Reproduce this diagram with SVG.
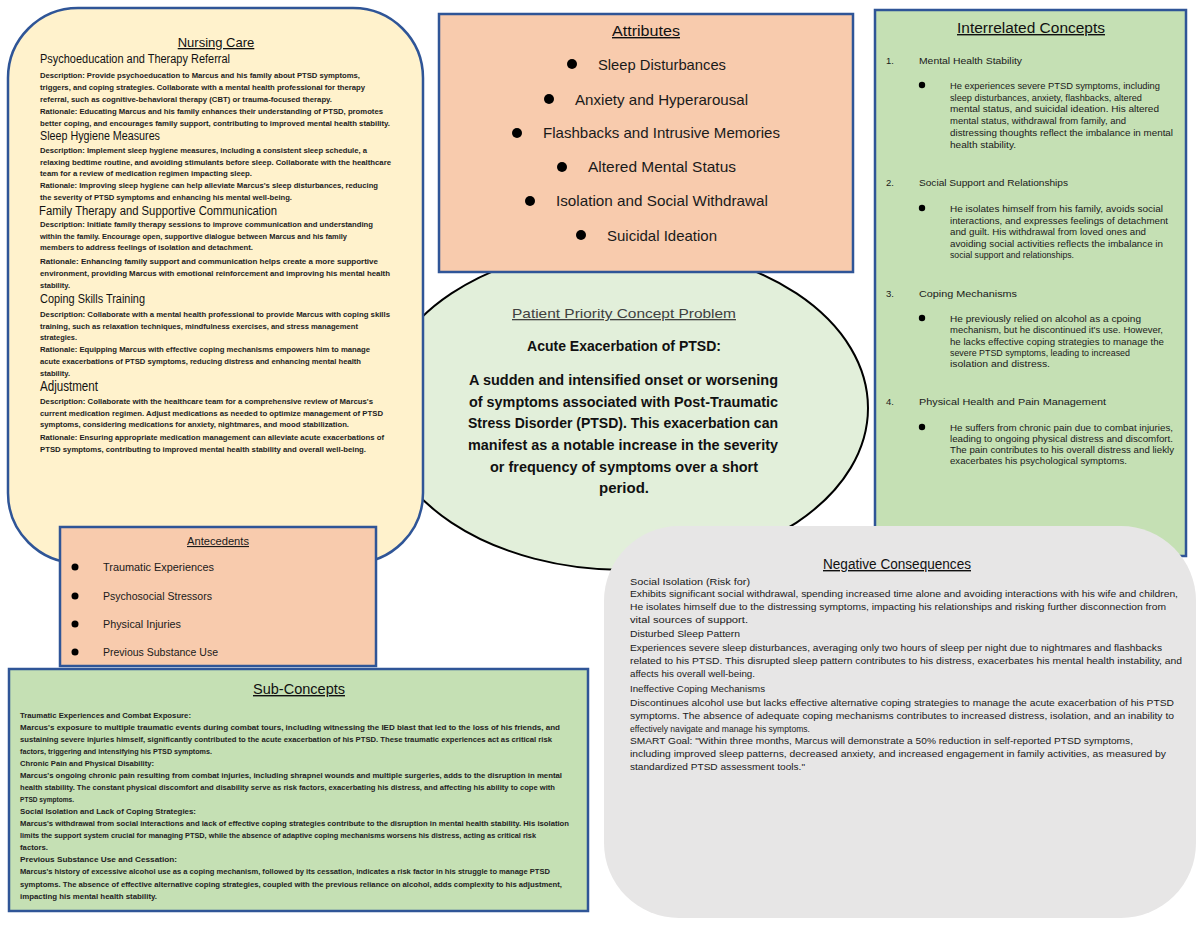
<svg xmlns="http://www.w3.org/2000/svg" width="1200" height="927" viewBox="0 0 1200 927">
<style>
text{font-family:"Liberation Sans",Arial,sans-serif;fill:#111}
.box{stroke:#2F5597;stroke-width:2.5}
.yel{fill:#FFF2CC}
.org{fill:#F8CBAD}
.grn{fill:#C5E0B4}
.ttl{font-size:13px;text-decoration:underline}
.h{font-size:12.5px}
.s{font-size:8px;font-weight:bold;fill:#222}
.m{font-size:9.5px;fill:#1a1a1a}
.n{font-size:9.5px;fill:#1a1a1a}
.a{font-size:15px;fill:#1a1a1a}
.an{font-size:11px;fill:#1a1a1a}
.pb{font-size:15px;font-weight:bold}
</style>
<rect width="1200" height="927" fill="#ffffff"/>

<g id="problem">
<ellipse cx="624" cy="408" rx="244" ry="162" fill="#E2EFDA" stroke="#000" stroke-width="2"/>
<text x="624" y="318" text-anchor="middle" font-size="13" style="fill:#404040;text-decoration:underline" textLength="224" lengthAdjust="spacingAndGlyphs">Patient Priority Concept Problem</text>
<text x="624" y="351" text-anchor="middle" class="pb" textLength="194" lengthAdjust="spacingAndGlyphs">Acute Exacerbation of PTSD:</text>
<text x="469" y="385" class="pb" textLength="309" lengthAdjust="spacingAndGlyphs">A sudden and intensified onset or worsening</text>
<text x="469" y="407" class="pb" textLength="309" lengthAdjust="spacingAndGlyphs">of symptoms associated with Post-Traumatic</text>
<text x="468" y="428" class="pb" textLength="310" lengthAdjust="spacingAndGlyphs">Stress Disorder (PTSD). This exacerbation can</text>
<text x="468" y="450" class="pb" textLength="310" lengthAdjust="spacingAndGlyphs">manifest as a notable increase in the severity</text>
<text x="490" y="472" class="pb" textLength="268" lengthAdjust="spacingAndGlyphs">or frequency of symptoms over a short</text>
<text x="624" y="493" class="pb" text-anchor="middle" textLength="50" lengthAdjust="spacingAndGlyphs">period.</text>
</g>

<g id="nursing-care">
<rect x="8" y="8" width="415" height="555" rx="70" class="box yel"/>
<text x="216" y="47" text-anchor="middle" class="ttl">Nursing Care</text>
<text x="40" y="63" class="h" textLength="190" lengthAdjust="spacingAndGlyphs">Psychoeducation and Therapy Referral</text>
<text x="40" y="78" class="s" textLength="320" lengthAdjust="spacingAndGlyphs">Description:  Provide psychoeducation to Marcus and his family about PTSD symptoms,</text>
<text x="40" y="90" class="s" textLength="325" lengthAdjust="spacingAndGlyphs">triggers, and coping strategies. Collaborate with a mental health professional for therapy</text>
<text x="40" y="102" class="s" textLength="292" lengthAdjust="spacingAndGlyphs">referral, such as cognitive-behavioral therapy (CBT) or trauma-focused therapy.</text>
<text x="40" y="114" class="s" textLength="343" lengthAdjust="spacingAndGlyphs">Rationale:  Educating Marcus and his family enhances their understanding of PTSD, promotes</text>
<text x="40" y="126" class="s" textLength="350" lengthAdjust="spacingAndGlyphs">better coping, and encourages family support, contributing to improved mental health stability.</text>
<text x="40" y="140" class="h" textLength="120" lengthAdjust="spacingAndGlyphs">Sleep Hygiene Measures</text>
<text x="40" y="153" class="s" textLength="327" lengthAdjust="spacingAndGlyphs">Description:  Implement sleep hygiene measures, including a consistent sleep schedule, a</text>
<text x="40" y="165" class="s" textLength="351" lengthAdjust="spacingAndGlyphs">relaxing bedtime routine, and avoiding stimulants before sleep. Collaborate with the healthcare</text>
<text x="40" y="176" class="s" textLength="212" lengthAdjust="spacingAndGlyphs">team for a review of medication regimen impacting sleep.</text>
<text x="40" y="188" class="s" textLength="338" lengthAdjust="spacingAndGlyphs">Rationale:  Improving sleep hygiene can help alleviate Marcus's sleep disturbances, reducing</text>
<text x="40" y="200" class="s" textLength="252" lengthAdjust="spacingAndGlyphs">the severity of PTSD symptoms and enhancing his mental well-being.</text>
<text x="39" y="215" class="h" textLength="238" lengthAdjust="spacingAndGlyphs">Family Therapy and Supportive Communication</text>
<text x="40" y="227" class="s" textLength="333" lengthAdjust="spacingAndGlyphs">Description: Initiate family therapy sessions to improve communication and understanding</text>
<text x="40" y="239" class="s" textLength="307" lengthAdjust="spacingAndGlyphs">within the family. Encourage open, supportive dialogue between Marcus and his family</text>
<text x="40" y="250" class="s" textLength="213" lengthAdjust="spacingAndGlyphs">members to address feelings of isolation and detachment.</text>
<text x="40" y="264" class="s" textLength="338" lengthAdjust="spacingAndGlyphs">Rationale:  Enhancing family support and communication helps create a more supportive</text>
<text x="40" y="276" class="s" textLength="350" lengthAdjust="spacingAndGlyphs">environment, providing Marcus with emotional reinforcement and improving his mental health</text>
<text x="40" y="288" class="s" textLength="30" lengthAdjust="spacingAndGlyphs">stability.</text>
<text x="40" y="303" class="h" textLength="105" lengthAdjust="spacingAndGlyphs">Coping Skills Training</text>
<text x="40" y="317" class="s" textLength="350" lengthAdjust="spacingAndGlyphs">Description:  Collaborate with a mental health professional to provide Marcus with coping skills</text>
<text x="40" y="329" class="s" textLength="318" lengthAdjust="spacingAndGlyphs">training, such as relaxation techniques, mindfulness exercises, and stress management</text>
<text x="40" y="340" class="s" textLength="37" lengthAdjust="spacingAndGlyphs">strategies.</text>
<text x="40" y="352" class="s" textLength="330" lengthAdjust="spacingAndGlyphs">Rationale: Equipping Marcus with effective coping mechanisms empowers him to manage</text>
<text x="40" y="364" class="s" textLength="321" lengthAdjust="spacingAndGlyphs">acute exacerbations of PTSD symptoms, reducing distress and enhancing mental health</text>
<text x="40" y="376" class="s" textLength="30" lengthAdjust="spacingAndGlyphs">stability.</text>
<text x="40" y="391" class="h" style="font-size:14px" textLength="58" lengthAdjust="spacingAndGlyphs">Adjustment</text>
<text x="40" y="404" class="s" textLength="333" lengthAdjust="spacingAndGlyphs">Description: Collaborate with the healthcare team for a comprehensive review of Marcus's</text>
<text x="40" y="416" class="s" textLength="343" lengthAdjust="spacingAndGlyphs">current medication regimen. Adjust medications as needed to optimize management of PTSD</text>
<text x="40" y="427" class="s" textLength="309" lengthAdjust="spacingAndGlyphs">symptoms, considering medications for anxiety, nightmares, and mood stabilization.</text>
<text x="40" y="440" class="s" textLength="344" lengthAdjust="spacingAndGlyphs">Rationale: Ensuring appropriate medication management can alleviate acute exacerbations of</text>
<text x="40" y="452" class="s" textLength="326" lengthAdjust="spacingAndGlyphs">PTSD symptoms, contributing to improved mental health stability and overall well-being.</text>
</g>

<g id="attributes">
<rect x="439" y="14" width="414" height="258" class="box org"/>
<text x="646" y="36" text-anchor="middle" class="ttl" style="font-size:14px" textLength="68" lengthAdjust="spacingAndGlyphs">Attributes</text>
<circle cx="572" cy="64" r="5" fill="#000"/>
<text x="598" y="70" class="a" textLength="128" lengthAdjust="spacingAndGlyphs">Sleep Disturbances</text>
<circle cx="549" cy="99" r="5" fill="#000"/>
<text x="575" y="105" class="a" textLength="173" lengthAdjust="spacingAndGlyphs">Anxiety and Hyperarousal</text>
<circle cx="517" cy="133" r="5" fill="#000"/>
<text x="543" y="138" class="a" textLength="237" lengthAdjust="spacingAndGlyphs">Flashbacks and Intrusive Memories</text>
<circle cx="562" cy="167" r="5" fill="#000"/>
<text x="588" y="172" class="a" textLength="148" lengthAdjust="spacingAndGlyphs">Altered Mental Status</text>
<circle cx="530" cy="201" r="5" fill="#000"/>
<text x="556" y="206" class="a" textLength="212" lengthAdjust="spacingAndGlyphs">Isolation and Social Withdrawal</text>
<circle cx="581" cy="235" r="5" fill="#000"/>
<text x="607" y="241" class="a" textLength="110" lengthAdjust="spacingAndGlyphs">Suicidal Ideation</text>
</g>

<g id="interrelated-concepts">
<rect x="875" y="10" width="311" height="546" class="box grn"/>
<text x="1031" y="33" text-anchor="middle" class="ttl" style="font-size:14px" textLength="148" lengthAdjust="spacingAndGlyphs">Interrelated Concepts</text>
<text x="886" y="64" class="n">1.</text>
<text x="919" y="64" class="n" textLength="103" lengthAdjust="spacingAndGlyphs">Mental Health Stability</text>
<circle cx="922" cy="85" r="3.2" fill="#000"/>
<text x="950" y="89" class="m" textLength="210" lengthAdjust="spacingAndGlyphs">He experiences severe PTSD symptoms, including</text>
<text x="950" y="101" class="m" textLength="192" lengthAdjust="spacingAndGlyphs">sleep disturbances, anxiety, flashbacks, altered</text>
<text x="950" y="112" class="m" textLength="209" lengthAdjust="spacingAndGlyphs">mental status, and suicidal ideation. His altered</text>
<text x="950" y="124" class="m" textLength="176" lengthAdjust="spacingAndGlyphs">mental status, withdrawal from family, and</text>
<text x="950" y="136" class="m" textLength="223" lengthAdjust="spacingAndGlyphs">distressing thoughts reflect the imbalance in mental</text>
<text x="950" y="148" class="m" textLength="66" lengthAdjust="spacingAndGlyphs">health stability.</text>
<text x="886" y="186" class="n">2.</text>
<text x="919" y="186" class="n" textLength="149" lengthAdjust="spacingAndGlyphs">Social Support and Relationships</text>
<circle cx="922" cy="208" r="3.2" fill="#000"/>
<text x="950" y="212" class="m" textLength="213" lengthAdjust="spacingAndGlyphs">He isolates himself from his family, avoids social</text>
<text x="950" y="224" class="m" textLength="218" lengthAdjust="spacingAndGlyphs">interactions, and expresses feelings of detachment</text>
<text x="950" y="235" class="m" textLength="196" lengthAdjust="spacingAndGlyphs">and guilt. His withdrawal from loved ones and</text>
<text x="950" y="247" class="m" textLength="213" lengthAdjust="spacingAndGlyphs">avoiding social activities reflects the imbalance in</text>
<text x="950" y="258" class="m" textLength="124" lengthAdjust="spacingAndGlyphs">social support and relationships.</text>
<text x="886" y="297" class="n">3.</text>
<text x="919" y="297" class="n" textLength="98" lengthAdjust="spacingAndGlyphs">Coping Mechanisms</text>
<circle cx="922" cy="318" r="3.2" fill="#000"/>
<text x="950" y="322" class="m" textLength="191" lengthAdjust="spacingAndGlyphs">He previously relied on alcohol as a cpoing</text>
<text x="950" y="333" class="m" textLength="213" lengthAdjust="spacingAndGlyphs">mechanism, but he discontinued it's use. However,</text>
<text x="950" y="345" class="m" textLength="214" lengthAdjust="spacingAndGlyphs">he lacks effective coping strategies to manage the</text>
<text x="950" y="356" class="m" textLength="180" lengthAdjust="spacingAndGlyphs">severe PTSD symptoms, leading to increased</text>
<text x="950" y="367" class="m" textLength="100" lengthAdjust="spacingAndGlyphs">isolation and distress.</text>
<text x="886" y="405" class="n">4.</text>
<text x="919" y="405" class="n" textLength="187" lengthAdjust="spacingAndGlyphs">Physical Health and Pain Management</text>
<circle cx="922" cy="427" r="3.2" fill="#000"/>
<text x="950" y="431" class="m" textLength="223" lengthAdjust="spacingAndGlyphs">He suffers from chronic pain due to combat injuries,</text>
<text x="950" y="442" class="m" textLength="223" lengthAdjust="spacingAndGlyphs">leading to ongoing physical distress and discomfort.</text>
<text x="950" y="453" class="m" textLength="224" lengthAdjust="spacingAndGlyphs">The pain contributes to his overall distress and liekly</text>
<text x="950" y="464" class="m" textLength="177" lengthAdjust="spacingAndGlyphs">exacerbates his psychological symptoms.</text>
</g>

<g id="negative-consequences">
<rect x="604" y="526" width="592" height="392" rx="75" fill="#E7E6E6"/>
<text x="897" y="569" text-anchor="middle" class="ttl" style="font-size:14px" textLength="148" lengthAdjust="spacingAndGlyphs">Negative Consequences</text>
<text x="630" y="585" class="m" textLength="120" lengthAdjust="spacingAndGlyphs">Social Isolation (Risk for)</text>
<text x="630" y="597" class="m" textLength="548" lengthAdjust="spacingAndGlyphs">Exhibits significant social withdrawal, spending increased time alone and avoiding interactions with his wife and children,</text>
<text x="630" y="610" class="m" textLength="536" lengthAdjust="spacingAndGlyphs">He isolates himself due to the distressing symptoms, impacting his relationships and risking further disconnection from</text>
<text x="630" y="623" class="m" textLength="118" lengthAdjust="spacingAndGlyphs">vital sources of support.</text>
<text x="630" y="637" class="m" textLength="110" lengthAdjust="spacingAndGlyphs">Disturbed Sleep Pattern</text>
<text x="630" y="651" class="m" textLength="532" lengthAdjust="spacingAndGlyphs">Experiences severe sleep disturbances, averaging only two hours of sleep per night due to nightmares and flashbacks</text>
<text x="630" y="664" class="m" textLength="552" lengthAdjust="spacingAndGlyphs">related to his PTSD. This disrupted sleep pattern contributes to his distress, exacerbates his mental health instability, and</text>
<text x="630" y="677" class="m" textLength="125" lengthAdjust="spacingAndGlyphs">affects his overall well-being.</text>
<text x="630" y="692" class="m" textLength="135" lengthAdjust="spacingAndGlyphs">Ineffective Coping Mechanisms</text>
<text x="630" y="706" class="m" textLength="544" lengthAdjust="spacingAndGlyphs">Discontinues alcohol use but lacks effective alternative coping strategies to manage the acute exacerbation of his PTSD</text>
<text x="630" y="719" class="m" textLength="544" lengthAdjust="spacingAndGlyphs">symptoms. The absence of adequate coping mechanisms contributes to increased distress, isolation, and an inability to</text>
<text x="630" y="732" class="m" textLength="180" lengthAdjust="spacingAndGlyphs">effectively navigate and manage his symptoms.</text>
<text x="630" y="744" class="m" textLength="503" lengthAdjust="spacingAndGlyphs">SMART Goal: "Within three months, Marcus will demonstrate a 50% reduction in self-reported PTSD symptoms,</text>
<text x="630" y="757" class="m" textLength="536" lengthAdjust="spacingAndGlyphs">including improved sleep patterns, decreased anxiety, and increased engagement in family activities, as measured by</text>
<text x="630" y="770" class="m" textLength="175" lengthAdjust="spacingAndGlyphs">standardized PTSD assessment tools."</text>
</g>

<g id="antecedents">
<rect x="60" y="527" width="316" height="139" class="box org"/>
<text x="218" y="545" text-anchor="middle" class="an" style="text-decoration:underline" textLength="62" lengthAdjust="spacingAndGlyphs">Antecedents</text>
<circle cx="75" cy="567" r="3.5" fill="#000"/>
<text x="103" y="571" class="an" textLength="111" lengthAdjust="spacingAndGlyphs">Traumatic Experiences</text>
<circle cx="75" cy="596" r="3.5" fill="#000"/>
<text x="103" y="600" class="an" textLength="109" lengthAdjust="spacingAndGlyphs">Psychosocial Stressors</text>
<circle cx="75" cy="624" r="3.5" fill="#000"/>
<text x="103" y="628" class="an" textLength="78" lengthAdjust="spacingAndGlyphs">Physical Injuries</text>
<circle cx="75" cy="652" r="3.5" fill="#000"/>
<text x="103" y="656" class="an" textLength="115" lengthAdjust="spacingAndGlyphs">Previous Substance Use</text>
</g>

<g id="sub-concepts">
<rect x="9" y="669" width="579" height="242" class="box grn"/>
<text x="299" y="694" text-anchor="middle" class="ttl" style="font-size:14px" textLength="92" lengthAdjust="spacingAndGlyphs">Sub-Concepts</text>
<text x="20" y="718" class="s" textLength="171" lengthAdjust="spacingAndGlyphs">Traumatic Experiences and Combat Exposure:</text>
<text x="20" y="730" class="s" textLength="540" lengthAdjust="spacingAndGlyphs">Marcus's exposure to multiple traumatic events during combat tours, including witnessing the IED blast that led to the loss of his friends, and</text>
<text x="20" y="742" class="s" textLength="532" lengthAdjust="spacingAndGlyphs">sustaining severe injuries himself, significantly contributed to the acute exacerbation of his PTSD. These traumatic experiences act as critical risk</text>
<text x="20" y="754" class="s" textLength="192" lengthAdjust="spacingAndGlyphs">factors, triggering and intensifying his PTSD symptoms.</text>
<text x="20" y="766" class="s" textLength="134" lengthAdjust="spacingAndGlyphs">Chronic Pain and Physical Disability:</text>
<text x="20" y="778" class="s" textLength="542" lengthAdjust="spacingAndGlyphs">Marcus's ongoing chronic pain resulting from combat injuries, including shrapnel wounds and multiple surgeries, adds to the disruption in mental</text>
<text x="20" y="790" class="s" textLength="535" lengthAdjust="spacingAndGlyphs">health stability. The constant physical discomfort and disability serve as risk factors, exacerbating his distress, and affecting his ability to cope with</text>
<text x="20" y="802" class="s" textLength="54" lengthAdjust="spacingAndGlyphs">PTSD symptoms.</text>
<text x="20" y="814" class="s" textLength="176" lengthAdjust="spacingAndGlyphs">Social Isolation and Lack of Coping Strategies:</text>
<text x="20" y="826" class="s" textLength="549" lengthAdjust="spacingAndGlyphs">Marcus's withdrawal from social interactions and lack of effective coping strategies contribute to the disruption in mental health stability. His isolation</text>
<text x="20" y="838" class="s" textLength="516" lengthAdjust="spacingAndGlyphs">limits the support system crucial for managing PTSD, while the absence of adaptive coping mechanisms worsens his distress, acting as critical risk</text>
<text x="20" y="850" class="s" textLength="28" lengthAdjust="spacingAndGlyphs">factors.</text>
<text x="20" y="862" class="s" textLength="157" lengthAdjust="spacingAndGlyphs">Previous Substance Use and Cessation:</text>
<text x="20" y="874" class="s" textLength="530" lengthAdjust="spacingAndGlyphs">Marcus's history of excessive alcohol use as a coping mechanism, followed by its cessation, indicates a risk factor in his struggle to manage PTSD</text>
<text x="20" y="887" class="s" textLength="542" lengthAdjust="spacingAndGlyphs">symptoms. The absence of effective alternative coping strategies, coupled with the previous reliance on alcohol, adds complexity to his adjustment,</text>
<text x="20" y="899" class="s" textLength="137" lengthAdjust="spacingAndGlyphs">impacting his mental health stability.</text>
</g>
</svg>
